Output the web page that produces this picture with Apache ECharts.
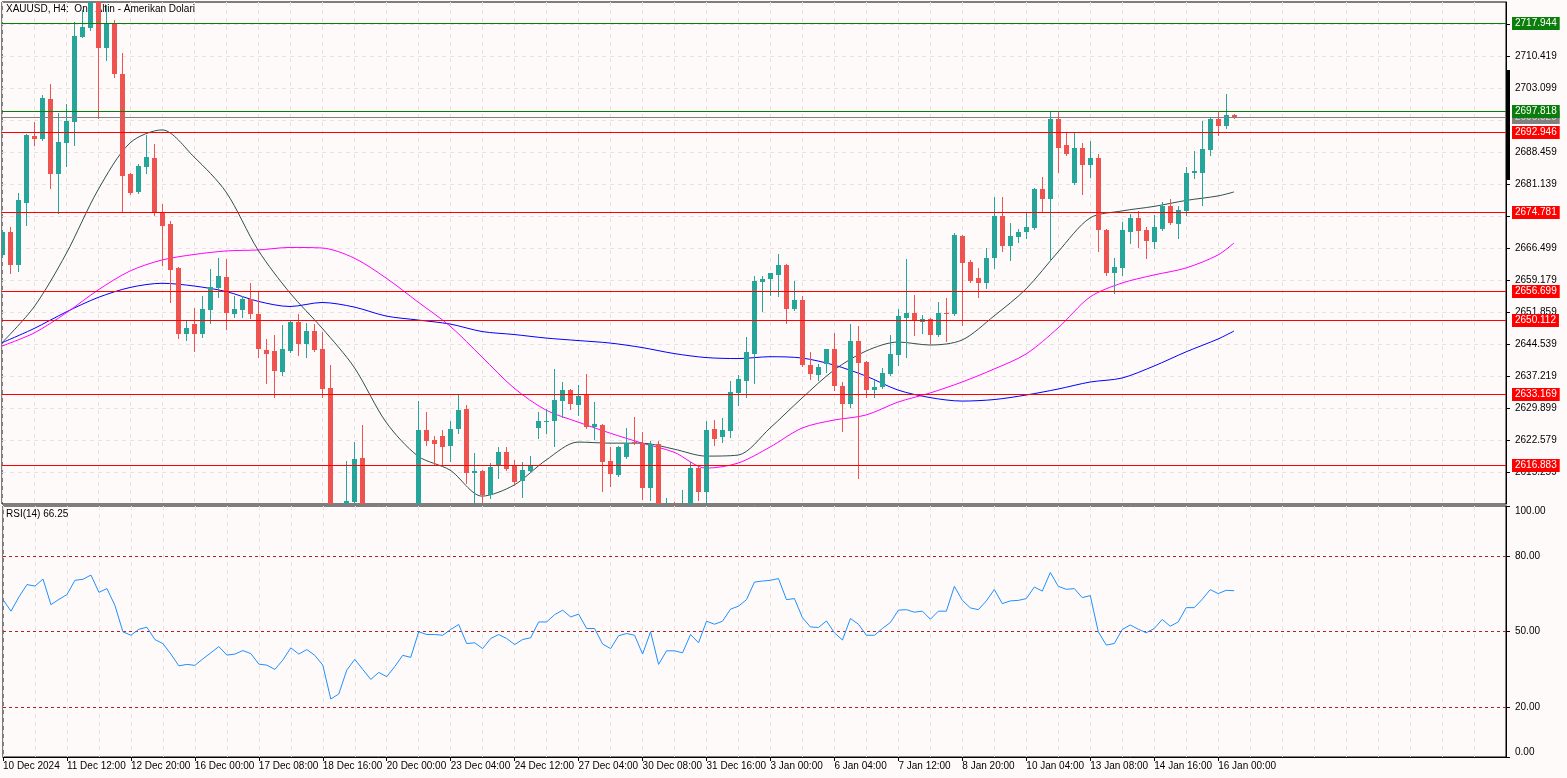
<!DOCTYPE html>
<html><head><meta charset="utf-8">
<script src="https://cdn.jsdelivr.net/npm/echarts@6/dist/echarts.min.js"></script>
<style>html,body{margin:0;padding:0;background:#fffafa}#c{width:1567px;height:778px}</style>
</head><body><div id="c"></div>
<script>
const tickLabels = ['10 Dec 2024','11 Dec 12:00','12 Dec 20:00','16 Dec 00:00','17 Dec 08:00','18 Dec 16:00','20 Dec 00:00','23 Dec 04:00','24 Dec 12:00','27 Dec 04:00','30 Dec 08:00','31 Dec 16:00','3 Jan 00:00','6 Jan 04:00','7 Jan 12:00','8 Jan 20:00','10 Jan 04:00','13 Jan 08:00','14 Jan 16:00','16 Jan 00:00'];
const priceTicks = [2615.259,2622.579,2629.899,2637.219,2644.539,2651.859,2659.179,2666.499,2673.819,2681.139,2688.459,2695.779,2703.099,2710.419,2717.739];
const rsiTicks = [0,20,50,80,100];
const rsiLevels = [80,50,20];
const redLevels = [2692.946,2674.781,2656.699,2650.112,2633.169,2616.883];
const greenLevels = [2717.944,2697.818];
const bidPrice = 2696.529;

const open = [2665.01,2670.34,2662.72,2676.97,2692.23,2691.48,2700.70,2683.61,2690.70,2695.50,
2714.95,2717.01,2726.00,2712.43,2718.01,2706.48,2683.61,2679.49,2685.21,2687.27,
2674.78,2672.10,2662.11,2646.99,2649.22,2646.99,2652.43,2657.53,2659.98,2651.59,
2652.43,2654.94,2651.59,2643.28,2643.12,2638.32,2643.12,2649.68,2644.65,2647.62,
2643.51,2634.59,2587.00,2594.00,2608.60,2618.57,2594.00,2592.00,2595.00,2593.00,
2597.00,2594.00,2598.00,2624.98,2622.69,2623.61,2621.39,2625.21,2629.78,2615.07,
2615.60,2610.11,2616.97,2620.02,2616.97,2613.31,2615.67,2625.51,2627.00,2627.04,
2631.68,2634.13,2630.70,2633.15,2625.74,2626.12,2617.89,2614.69,2618.88,2622.30,
2622.08,2611.65,2621.78,2603.00,2606.00,2600.00,2605.00,2616.22,2610.86,2625.21,
2623.45,2624.75,2633.37,2636.19,2642.37,2658.91,2659.45,2660.44,2662.72,2652.66,
2654.72,2639.85,2637.56,2640.08,2643.44,2635.11,2630.93,2645.34,2640.60,2634.13,
2634.75,2637.79,2642.14,2650.67,2651.81,2649.75,2650.44,2646.71,2651.81,2651.51,
2669.36,2663.48,2659.75,2658.67,2664.32,2673.93,2667.14,2669.20,2670.20,2671.25,
2680.11,2677.82,2696.12,2690.17,2681.55,2689.56,2685.60,2687.27,2670.73,2660.97,
2661.97,2670.34,2673.41,2670.73,2668.05,2670.96,2676.22,2672.10,2675.08,2683.70,
2683.84,2689.03,2696.12,2694.52,2697.04];
const close = [2670.34,2662.72,2677.59,2692.46,2691.48,2700.99,2683.61,2690.86,2695.66,2715.11,
2717.17,2725.50,2712.43,2718.01,2706.48,2683.15,2679.19,2685.44,2687.50,2674.78,
2671.71,2661.58,2646.99,2648.31,2646.99,2652.66,2657.62,2660.21,2651.81,2652.66,
2654.94,2651.59,2643.58,2642.43,2638.55,2643.51,2649.68,2644.65,2647.62,2643.28,
2634.43,2587.00,2594.00,2608.81,2618.35,2594.00,2592.00,2595.00,2593.00,2597.00,
2594.00,2598.00,2624.98,2622.53,2621.84,2621.16,2625.21,2629.55,2615.21,2615.60,
2610.11,2616.59,2620.02,2616.06,2613.15,2615.83,2616.81,2627.04,2627.04,2631.84,
2634.13,2630.93,2632.83,2625.74,2626.28,2617.73,2614.92,2621.02,2622.08,2621.94,
2611.65,2621.78,2603.00,2606.00,2600.00,2605.00,2616.22,2610.86,2624.98,2622.85,
2624.98,2633.74,2636.58,2642.89,2659.07,2659.52,2660.83,2662.72,2652.66,2654.72,
2639.85,2637.79,2639.46,2643.44,2635.04,2630.93,2645.34,2640.38,2634.13,2634.89,
2638.09,2642.37,2651.06,2651.81,2649.98,2650.30,2646.71,2651.81,2651.66,2669.59,
2663.25,2659.13,2658.67,2664.32,2673.93,2667.14,2669.36,2670.20,2671.35,2680.11,
2677.82,2696.12,2689.56,2688.12,2689.56,2685.60,2687.27,2670.73,2660.97,2662.27,
2670.73,2673.41,2670.57,2668.28,2671.35,2676.22,2672.40,2675.31,2683.84,2684.23,
2689.19,2696.12,2694.59,2697.04,2696.53];
const low = [2664.50,2660.97,2661.42,2671.88,2690.18,2691.30,2680.41,2674.55,2685.44,2690.17,
2714.77,2716.50,2696.28,2709.62,2705.80,2674.78,2678.90,2679.20,2683.70,2674.16,
2662.72,2654.33,2646.09,2645.56,2643.12,2646.32,2649.39,2655.47,2648.15,2650.90,
2650.90,2650.67,2641.75,2635.80,2632.60,2637.56,2642.90,2642.14,2641.75,2643.05,
2632.60,2583.00,2584.00,2592.00,2604.00,2590.00,2583.00,2586.00,2590.00,2588.00,
2591.00,2588.00,2596.00,2621.55,2616.97,2616.97,2617.96,2624.22,2612.79,2607.50,
2608.58,2609.36,2613.93,2615.83,2612.40,2609.72,2615.40,2623.22,2624.22,2621.39,
2628.02,2629.71,2628.41,2625.50,2622.92,2611.09,2612.24,2614.40,2618.60,2621.80,
2609.20,2608.97,2600.00,2598.00,2597.00,2598.00,2603.00,2608.97,2608.20,2621.55,
2622.30,2623.45,2630.70,2632.60,2635.80,2652.27,2655.86,2655.63,2649.52,2652.40,
2639.60,2636.58,2636.41,2638.32,2634.13,2624.75,2630.31,2614.07,2632.60,2632.60,
2634.50,2637.56,2639.85,2641.75,2646.71,2647.24,2644.95,2646.40,2645.41,2651.30,
2648.99,2658.80,2655.40,2657.39,2662.04,2666.00,2663.87,2668.05,2668.97,2671.00,
2674.78,2663.87,2683.93,2687.90,2681.30,2678.97,2682.92,2666.00,2660.43,2656.38,
2660.43,2667.69,2666.91,2664.25,2666.54,2670.70,2672.20,2668.97,2674.16,2682.56,
2676.45,2687.89,2692.46,2694.13,2696.40];
const high = [2670.80,2671.49,2679.26,2692.69,2695.50,2701.61,2704.13,2697.49,2699.48,2718.24,
2721.06,2728.00,2728.00,2722.20,2718.77,2711.15,2683.80,2685.80,2692.46,2690.40,
2676.68,2672.79,2662.34,2649.91,2652.89,2655.63,2661.81,2664.32,2664.10,2655.70,
2655.70,2658.67,2656.62,2645.80,2646.71,2649.00,2650.00,2651.51,2649.52,2649.22,
2647.40,2639.85,2598.00,2617.96,2622.24,2626.12,2600.00,2598.00,2600.00,2599.00,
2603.00,2602.00,2631.61,2629.03,2623.61,2624.98,2627.04,2632.99,2630.70,2619.79,
2615.83,2617.36,2621.16,2621.16,2618.11,2617.66,2619.03,2629.03,2629.78,2638.93,
2636.03,2634.36,2635.27,2637.79,2631.45,2626.30,2621.02,2621.30,2625.51,2628.02,
2624.45,2622.53,2622.53,2609.43,2608.60,2611.25,2617.73,2616.97,2627.04,2627.27,
2627.65,2636.19,2637.56,2646.19,2660.21,2660.21,2660.97,2665.30,2662.90,2659.07,
2655.63,2642.89,2640.01,2643.60,2647.23,2636.03,2649.22,2648.77,2640.80,2636.42,
2639.23,2646.71,2652.66,2664.10,2655.86,2651.29,2650.60,2654.33,2655.10,2669.97,
2669.59,2663.87,2662.04,2666.54,2678.21,2678.21,2672.40,2670.89,2674.69,2680.41,
2682.92,2697.95,2697.95,2693.08,2693.08,2690.70,2691.16,2688.12,2670.90,2664.32,
2672.63,2674.32,2675.08,2671.35,2674.16,2677.20,2677.75,2676.22,2685.21,2688.80,
2695.73,2696.51,2697.79,2701.84,2697.26];
const rsi = [62.7,58.1,63.8,68.7,68.1,70.9,60.7,62.8,64.7,70.4,
70.8,72.5,65.6,67.1,60.4,49.9,48.5,50.9,51.7,46.8,
45.2,41.0,36.3,36.9,36.5,39.1,41.5,44.0,40.6,41.0,
42.4,41.2,37.0,36.6,34.9,38.6,43.5,41.0,42.8,40.5,
36.6,23.1,25.1,34.6,38.9,34.9,30.9,33.7,32.0,36.0,
40.5,39.7,49.9,48.8,48.8,48.5,50.8,52.8,45.2,45.5,
43.2,47.2,48.8,47.2,44.8,46.8,47.5,53.8,53.8,56.7,
58.5,55.8,56.9,51.2,51.2,45.0,43.2,48.3,49.2,48.5,
41.0,49.9,36.9,42.3,42.3,41.5,48.8,45.5,54.1,52.9,
54.1,58.9,60.1,62.7,69.7,70.1,70.4,71.1,62.7,63.1,
55.5,51.8,51.6,54.2,49.5,46.6,55.2,52.9,48.5,48.5,
51.2,53.6,58.5,58.7,57.7,58.1,54.9,58.1,58.1,68.0,
62.4,59.4,58.7,62.2,66.7,61.1,62.2,62.4,63.1,67.7,
66.1,73.5,68.0,66.8,67.1,63.5,64.3,49.9,44.6,45.2,
50.8,52.6,50.9,49.5,51.2,54.8,52.1,53.8,59.5,59.5,
62.8,66.7,65.1,66.4,66.25];
const maBars = [0,4,8,12,16,20,24,28,32,36,40,44,48,52,56,60,64,68,72,76,80,84,88,92,96,100,104,108,112,116,120,124,128,132,136,140,144,148,152,154];
const maBlack = [2644.95,2653.12,2665.24,2679.88,2690.63,2693.61,2687.43,2679.42,2666.16,2656.32,2648.31,2639.39,2626.81,2619.03,2615.83,2609.88,2612.40,2618.11,2622.24,2621.99,2621.99,2620.63,2619.03,2619.26,2625.44,2632.30,2638.70,2643.05,2645.11,2644.43,2645.57,2651.06,2657.24,2665.70,2673.47,2675.08,2676.11,2677.48,2678.51,2679.42];
const maMagenta = [2644.19,2647.17,2651.74,2657.00,2661.35,2663.87,2665.12,2665.93,2666.16,2666.73,2666.61,2664.32,2659.75,2654.26,2648.77,2641.68,2634.59,2629.55,2626.81,2624.29,2622.00,2619.92,2616.28,2617.43,2621.09,2625.44,2627.27,2628.42,2631.38,2633.45,2635.96,2638.93,2642.37,2648.31,2655.40,2658.60,2660.44,2662.04,2665.01,2667.76];
const maBlue = [2644.95,2648.19,2651.97,2655.29,2657.58,2658.54,2657.92,2656.66,2654.42,2653.23,2654.15,2653.12,2651.06,2650.14,2649.23,2647.51,2646.83,2646.02,2645.45,2644.88,2643.85,2642.48,2641.56,2641.33,2641.75,2641.45,2639.85,2637.33,2634.13,2632.41,2631.61,2631.95,2632.99,2634.36,2635.96,2636.88,2639.62,2642.86,2645.80,2647.63];

const slots = 189; // visible bar slots incl. right shift area
const cats = Array.from({length: slots}, (_, i) => String(i));
const candles = open.map((o, i) => [i, o, close[i], low[i], high[i]]);
const pair = arr => maBars.map((b, i) => [b, arr[i]]);
const FONT = 'Liberation Sans';
const BULL = '#26a69a', BEAR = '#ef5350';
const gridDash = {color: '#e9e2e2', type: [4, 4], width: 1};

function renderCandle(params, api) {
  const i = api.value(0), o = api.value(1), c = api.value(2), l = api.value(3), h = api.value(4);
  const po = api.coord([i, o]), pc = api.coord([i, c]);
  const pl = api.coord([i, l]), ph = api.coord([i, h]);
  const col = c >= o ? BULL : BEAR;
  const x = Math.round(po[0]);
  const top = Math.round(Math.min(po[1], pc[1])), bot = Math.round(Math.max(po[1], pc[1]));
  return {type: 'group', children: [
    {type: 'line', shape: {x1: x + 0.5, y1: Math.round(ph[1]), x2: x + 0.5, y2: Math.round(pl[1]) + 1}, style: {stroke: col, lineWidth: 1}},
    {type: 'rect', shape: {x: x - 2, y: top, width: 5, height: Math.max(bot - top, 1)}, style: {fill: col}}
  ]};
}

// horizontal level line + price tag on the right axis
const levelRenderer = (lineCol, bg, txt) => (params, api) => {
  const v = api.value(1);
  const cs = params.coordSys;
  const y = Math.floor(api.coord([0, v])[1]) + 0.5;
  return {type: 'group', children: [
    {type: 'line', shape: {x1: cs.x, y1: y, x2: cs.x + cs.width, y2: y}, style: {stroke: lineCol, lineWidth: 1}},
    {type: 'text', x: cs.x + cs.width + 6, y: y,
     style: {text: v.toFixed(3), fill: txt, backgroundColor: bg, padding: [2, 3, 1, 3],
       fontSize: 10, fontFamily: FONT, align: 'left', verticalAlign: 'middle'}}
  ]};
};
// dashed background grid rows at the price ticks
const gridRowRenderer = (params, api) => {
  const cs = params.coordSys;
  const y = Math.floor(api.coord([0, api.value(1)])[1]) + 0.5;
  return {type: 'line', shape: {x1: cs.x, y1: y, x2: cs.x + cs.width, y2: y},
    style: {stroke: gridDash.color, lineWidth: 1, lineDash: [4, 4]}};
};
const rsiLevelRenderer = (params, api) => {
  const cs = params.coordSys;
  const y = Math.floor(api.coord([0, api.value(1)])[1] + 0.25) + 0.5;
  return {type: 'line', shape: {x1: cs.x, y1: y, x2: cs.x + cs.width, y2: y},
    style: {stroke: '#b22222', lineWidth: 1, lineDash: [3, 3]}};
};
const levelSeries = (vals, lineCol, bg, txt) => ({
  type: 'custom', xAxisIndex: 0, yAxisIndex: 0, clip: false, z: 6, silent: true,
  data: vals.map(v => [0, v]), encode: {x: 0, y: 1}, renderItem: levelRenderer(lineCol, bg, txt)
});

const chart = echarts.init(document.getElementById('c'), null, {renderer: 'canvas'});
chart.setOption({
  animation: false,
  backgroundColor: '#fffafa',
  textStyle: {fontFamily: FONT},
  title: [
    {text: 'XAUUSD, H4:  Ons Altin - Amerikan Dolari', left: 6, top: 4, padding: 0, z: 1,
     textStyle: {fontSize: 10, fontWeight: 'normal', color: '#000', fontFamily: FONT}},
    {text: 'RSI(14) ' + rsi[rsi.length - 1].toFixed(2), left: 6, top: 509, padding: 0, z: 1,
     textStyle: {fontSize: 10, fontWeight: 'normal', color: '#000', fontFamily: FONT}}
  ],
  grid: [
    {left: 2, top: 2, width: 1504, height: 502, show: true, borderColor: '#000', borderWidth: 1, backgroundColor: '#fffafa'},
    {left: 2, top: 506, width: 1504, height: 251, show: true, borderColor: '#000', borderWidth: 1, backgroundColor: '#fffafa'}
  ],
  xAxis: [
    {type: 'category', gridIndex: 0, data: cats, boundaryGap: false,
     axisLine: {show: false}, axisTick: {show: false}, axisLabel: {show: false},
     splitLine: {show: true, interval: i => i % 4 === 0, lineStyle: gridDash}},
    {type: 'category', gridIndex: 1, data: cats, boundaryGap: false,
     axisLine: {show: true, lineStyle: {color: '#000'}},
     axisTick: {show: true, length: 4, interval: i => i % 8 === 0 && i / 8 < tickLabels.length, lineStyle: {color: '#000'}},
     axisLabel: {show: true, interval: i => i % 8 === 0 && i / 8 < tickLabels.length, align: 'left', margin: 4,
       formatter: (v, i) => tickLabels[i / 8] || '', fontSize: 10, color: '#000', fontFamily: FONT},
     splitLine: {show: true, interval: i => i % 4 === 0, lineStyle: gridDash}}
  ],
  yAxis: [
    {type: 'value', gridIndex: 0, position: 'right', min: 2608.079, max: 2722.85,
     axisLine: {show: true, lineStyle: {color: '#000'}},
     axisTick: {show: true, length: 4, customValues: priceTicks, lineStyle: {color: '#000'}},
     axisLabel: {customValues: priceTicks, formatter: v => v.toFixed(3), fontSize: 10, color: '#000', margin: 9, fontFamily: FONT},
     splitLine: {show: false}},
    {type: 'value', gridIndex: 1, position: 'right', min: 0, max: 100,
     axisLine: {show: true, lineStyle: {color: '#000'}},
     axisTick: {show: true, length: 4, customValues: rsiTicks, lineStyle: {color: '#000'}},
     axisLabel: {customValues: rsiTicks, formatter: v => v.toFixed(2), fontSize: 10, color: '#000', margin: 9, fontFamily: FONT,
       verticalAlignMaxLabel: 'top', verticalAlignMinLabel: 'bottom'},
     splitLine: {show: false}}
  ],
  graphic: [
    {type: 'rect', z: 100, shape: {x: 1507, y: 70, width: 3, height: 110}, style: {fill: '#000'}}
  ],
  series: [
    {type: 'custom', xAxisIndex: 0, yAxisIndex: 0, clip: true, z: 1, silent: true,
     data: priceTicks.map(v => [0, v]), encode: {x: 0, y: 1}, renderItem: gridRowRenderer},
    {type: 'line', name: 'MA slow', xAxisIndex: 0, yAxisIndex: 0, data: pair(maBlue), showSymbol: false, smooth: 0.3,
     lineStyle: {color: '#0000ff', width: 1}, z: 3, silent: true},
    {type: 'line', name: 'MA mid', xAxisIndex: 0, yAxisIndex: 0, data: pair(maMagenta), showSymbol: false, smooth: 0.3,
     lineStyle: {color: '#ff00ff', width: 1}, z: 3, silent: true},
    {type: 'line', name: 'MA fast', xAxisIndex: 0, yAxisIndex: 0, data: pair(maBlack), showSymbol: false, smooth: 0.3,
     lineStyle: {color: '#2f4f4f', width: 1}, z: 3, silent: true},
    {type: 'custom', name: 'XAUUSD', xAxisIndex: 0, yAxisIndex: 0, data: candles, clip: true, z: 4,
     encode: {x: 0, y: [1, 2, 3, 4]}, renderItem: renderCandle, silent: true},
    levelSeries([bidPrice], '#808080', '#808080', '#d6d6d6'),
    levelSeries(redLevels, '#ff0000', '#ff0000', '#ffffff'),
    levelSeries(greenLevels, '#0b7d0b', '#0b7d0b', '#ffffff'),
    {type: 'line', name: 'RSI', xAxisIndex: 1, yAxisIndex: 1, data: rsi, showSymbol: false,
     lineStyle: {color: '#1e90ff', width: 1}, z: 3, silent: true},
    {type: 'custom', xAxisIndex: 1, yAxisIndex: 1, clip: false, z: 2, silent: true,
     data: rsiLevels.map(v => [0, v]), encode: {x: 0, y: 1}, renderItem: rsiLevelRenderer}
  ]
});
</script></body></html>
